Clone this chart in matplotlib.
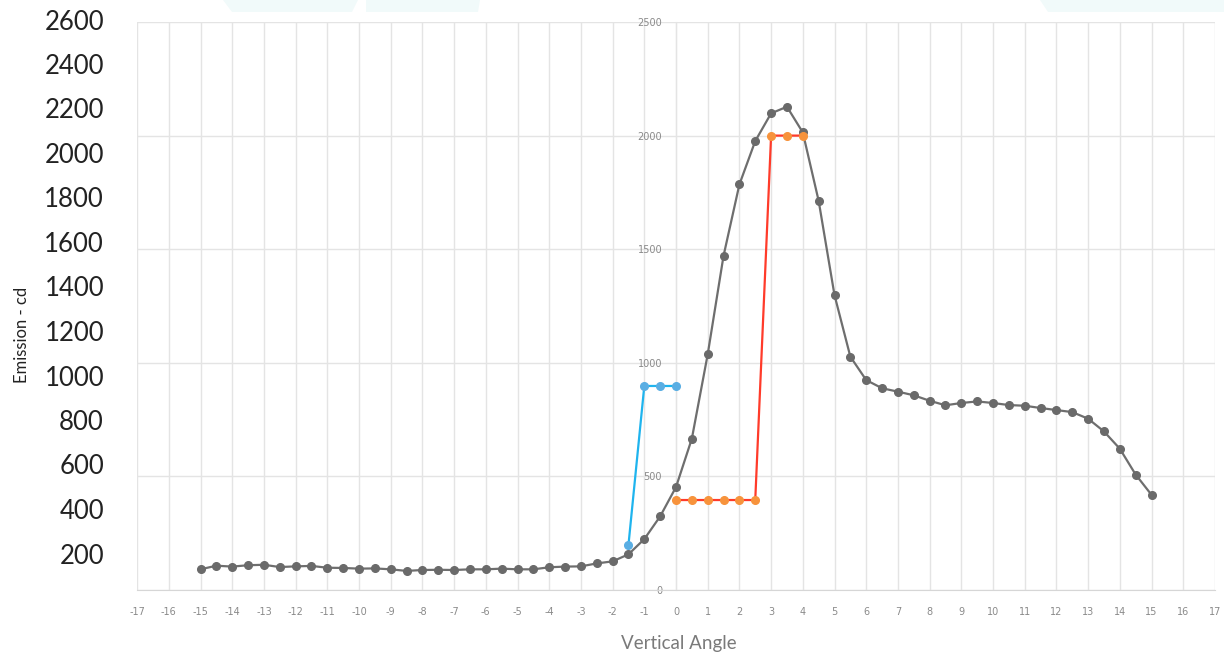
import matplotlib
matplotlib.use("Agg")
import matplotlib.pyplot as plt
from matplotlib.patches import Polygon

plt.rcParams["axes.unicode_minus"] = False

# ---- data ----
angles = [-15, -14.5, -14, -13.5, -13, -12.5, -12, -11.5, -11, -10.5, -10, -9.5, -9, -8.5,
          -8, -7.5, -7, -6.5, -6, -5.5, -5, -4.5, -4, -3.5, -3, -2.5, -2, -1.5, -1, -0.5,
          0, 0.5, 1, 1.5, 2, 2.5, 3, 3.5, 4, 4.5, 5, 5.5, 6, 6.5, 7, 7.5, 8, 8.5, 9, 9.5,
          10, 10.5, 11, 11.5, 12, 12.5, 13, 13.5, 14, 14.5, 15]
emission = [91, 107, 103, 109, 111, 101, 104, 106, 98, 97, 94, 95, 91, 84,
            88, 89, 88, 91, 91, 94, 91, 91, 100, 103, 104, 117, 126, 157, 224, 324,
            453, 666, 1037, 1471, 1785, 1976, 2098, 2127, 2014, 1713, 1298, 1027, 924, 888,
            873, 857, 833, 813, 823, 830, 823, 814, 811, 801, 792, 783, 754, 698, 622, 508, 419]

blue_x = [-1.5, -1, -0.5, 0]
blue_y = [198, 898, 898, 898]

orange_x = [0, 0.5, 1, 1.5, 2, 2.5, 3, 3.5, 4]
orange_y = [396, 396, 396, 396, 396, 396, 2000, 2000, 2000]

x_ticks = list(range(-17, 18))
y_ticks = [0, 500, 1000, 1500, 2000, 2500]
left_labels = [200, 400, 600, 800, 1000, 1200, 1400, 1600, 1800, 2000, 2200, 2400, 2600]

W, H = 1224, 658
fig = plt.figure(figsize=(W / 100, H / 100), dpi=100)

# faint decorative shapes at top
deco = [
    [(223, 0), (358, 0), (352, 12), (232, 12)],
    [(366, 0), (480, 0), (478, 12), (366, 12)],
    [(1040, 0), (1224, 0), (1224, 12), (1048, 12)],
]
for pts in deco:
    poly = Polygon([(x / W, 1 - y / H) for x, y in pts], closed=True,
                   transform=fig.transFigure, facecolor="#F1FAFA", edgecolor="none", zorder=0)
    fig.patches.append(poly)

ax_left, ax_right = 137.1 / W, 1214.9 / W
ax_bottom, ax_top = 1 - 590 / H, 1 - 22 / H
ax = fig.add_axes([ax_left, ax_bottom, ax_right - ax_left, ax_top - ax_bottom])
ax.set_xlim(-17, 17)
ax.set_ylim(0, 2500)

ax.set_xticks(x_ticks)
ax.set_yticks(y_ticks)
ax.grid(True, color="#E4E4E4", linewidth=1.0)
ax.set_axisbelow(True)

for s in ["top", "right"]:
    ax.spines[s].set_visible(False)
ax.spines["bottom"].set_color("#D6D6D6")
ax.spines["left"].set_position(("data", 0))
ax.spines["left"].set_color("#E4E4E4")
ax.tick_params(axis="both", length=0, colors="#8A8A8A", labelsize=7)
ax.tick_params(axis="y", pad=10)
ax.tick_params(axis="x", pad=12)

ax.plot(angles, emission, color="#6E6E6E", linewidth=1.6, marker="o",
        markersize=5.5, markerfacecolor="#6A6A6A", markeredgecolor="#6A6A6A", zorder=3)
ax.plot(blue_x, blue_y, color="#1FB4EE", linewidth=1.6, marker="o",
        markersize=5.5, markerfacecolor="#5AAEE3", markeredgecolor="#5AAEE3", zorder=4)
ax.plot(orange_x, orange_y, color="#FF3B2A", linewidth=1.6, marker="o",
        markersize=5.5, markerfacecolor="#F7933C", markeredgecolor="#F7933C", zorder=4)

# overlaid large left labels
spacing = (556 - 22) / 12
for i, v in enumerate(left_labels):
    ypix = 556 - i * spacing
    fig.text(104 / W, 1 - ypix / H, str(v), ha="right", va="center",
             fontsize=18.5, color="#222222", family=["Lato", "DejaVu Sans"])

fig.text(22 / W, 1 - 335 / H, "Emission - cd", rotation=90, ha="center", va="center",
         fontsize=12, color="#222222", family=["Lato", "DejaVu Sans"])
fig.text(679 / W, 1 - 644 / H, "Vertical Angle", ha="center", va="center",
         fontsize=13.5, color="#7A7A7A", family=["Lato", "DejaVu Sans"])

fig.savefig("out.png", dpi=100)
